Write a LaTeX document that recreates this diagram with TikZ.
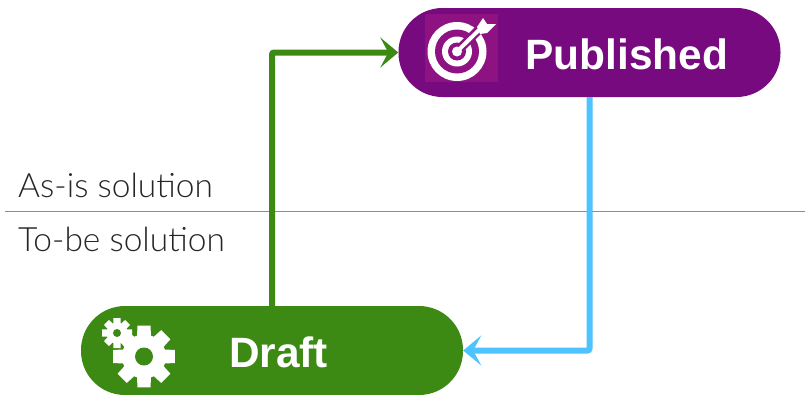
\documentclass[tikz,border=0pt]{standalone}
\usepackage{fontspec}
\setmainfont{Liberation Sans}
\newfontfamily\lightfont{Lato Light}
\usetikzlibrary{arrows.meta}

\definecolor{pubpurple}{HTML}{780A80}
\definecolor{iconpurple}{HTML}{8F1282}
\definecolor{draftgreen}{HTML}{3C8A14}
\definecolor{flowblue}{HTML}{4DC3FF}
\definecolor{rulegray}{HTML}{8C8C8C}

\tikzset{
  pill/.style={rectangle,rounded corners=44pt,minimum width=382pt,minimum height=89pt,inner sep=0pt},
  pilltext/.style={text=white,font=\fontsize{42.4}{42.4}\selectfont\bfseries,inner sep=0pt},
  sidetext/.style={font=\lightfont\fontsize{33.5}{33.5}\selectfont,text=black!85,inner sep=0pt,anchor=base west},
  flow/.style={line width=6pt,rounded corners=2pt,-{Stealth[length=18pt,width=30pt,inset=8pt]}},
  tooth/.style={fill=white,draw=none}
}

\begin{document}
\begin{tikzpicture}[x=1pt,y=-1pt]
\useasboundingbox (0,0) rectangle (805,394);

\coordinate(l) at (5,211);
\coordinate(r) at (805,211);
\draw[rulegray,line width=1pt] (l) -- (r);

\node[sidetext](asis) at (18,197) {As-is solution};
\node[sidetext](tobe) at (18,251) {To-be solution};

\node[pill,fill=pubpurple](published) at (589.5,52.5) {};
\node[pill,fill=draftgreen](draft) at (272,350.5) {};

\node[pilltext](publishedtext) at (627,54) {Published};
\node[pilltext](drafttext) at (278.5,352) {Draft};

\draw[flow,draftgreen] (draft.north) |- (published.west);
\draw[flow,flowblue] (published.south) |- (draft.east);

% target icon
\fill[iconpurple] (425,14) rectangle (498,82);
\fill[white] (457,51.5) circle (29.5);
\fill[iconpurple] (457,51.5) circle (22);
\fill[white] (457,51.5) circle (15);
\fill[iconpurple] (457,51.5) circle (9);
\draw[iconpurple,line width=9pt] (457,51.5) -- (478,30.5);
\fill[white] (457,51.5) circle (5);
\draw[white,line width=4pt] (457,51.5) -- (480,29);
\fill[white] (477,27) -- (483,18) -- (487,24) -- (496,24) -- (487,33) -- (480,34) -- cycle;

% gears
\fill[white] (144,356.5) circle (22);
\foreach \a in {0,45,...,315}
  \fill[tooth,rotate around={\a:(144,356.5)}] (136,356.5) -- (137.5,325.7) -- (150.5,325.7) -- (152,356.5) -- cycle;
\fill[draftgreen] (144,356.5) circle (9);

\fill[white] (117,333) circle (10.5);
\foreach \a in {0,45,...,315}
  \fill[tooth,rotate around={\a:(117,333)}] (113,333) -- (113.5,318) -- (120.5,318) -- (121,333) -- cycle;
\fill[draftgreen] (117,333) circle (4);

\end{tikzpicture}
\end{document}
